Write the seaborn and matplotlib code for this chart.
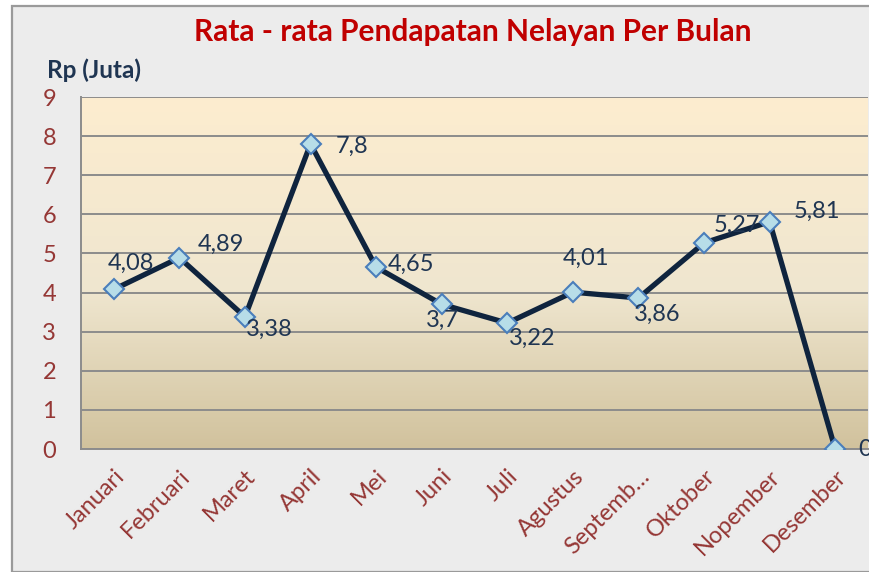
import numpy as np
import matplotlib
matplotlib.use("Agg")
import matplotlib.pyplot as plt
from matplotlib.colors import LinearSegmentedColormap
from matplotlib.patches import Rectangle
from matplotlib.transforms import ScaledTranslation
import seaborn as sns

# data
months = ["Januari", "Februari", "Maret", "April", "Mei", "Juni", "Juli",
          "Agustus", "Septemb\u2026", "Oktober", "Nopember", "Desember"]
income = [4.08, 4.89, 3.38, 7.8, 4.65, 3.7, 3.22, 4.01, 3.86, 5.27, 5.81, 0]
y_ticks = [0, 1, 2, 3, 4, 5, 6, 7, 8, 9]

# label offsets (pixels) relative to each point
label_dx = [17, 42, 24, 42, 35, 1, 25, 13, 19, 33, 47, 30]
label_dy = [26, 13, -13, -2, 3, -16, -15, 34, -16, 18, 10, 0]

sns.set_style("white")
plt.rcParams['font.family'] = ['Lato', 'DejaVu Sans']

W, H = 869, 572
fig = plt.figure(figsize=(W / 100, H / 100), dpi=100)
fig.patch.set_facecolor("white")

# grey chart background with border
bg = Rectangle((12 / W, 0), 1, 1 - 6 / H, transform=fig.transFigure,
               facecolor="#ececec", edgecolor="#9a9a9a", lw=1.6, zorder=-10)
fig.patches.append(bg)

ax = fig.add_axes([81 / W, 1 - 449 / H, (868 - 81) / W, (449 - 97) / H])
ax.set_facecolor("none")

# gradient plot area
cmap = LinearSegmentedColormap.from_list(
    "sand", [(0, "#d1c29d"), (0.45, "#efe6cf"), (1, "#fdedd0")])
grad = np.linspace(0, 1, 256).reshape(-1, 1)
ax.imshow(grad, cmap=cmap, origin="lower", aspect="auto",
          extent=(-0.5, 11.5, 0, 9), zorder=0)

for t in y_ticks:
    ax.axhline(t, color="#8c8c8c", lw=1.4, zorder=1)

sns.lineplot(x=np.arange(len(months)), y=income, ax=ax, color="#0f243e",
             lw=3.8, marker="D", markersize=10, markerfacecolor="#b7dde8",
             markeredgecolor="#4a7ebb", markeredgewidth=1.5, zorder=3)

for i, v in enumerate(income):
    ax.annotate(f"{v:g}".replace(".", ","), (i, v),
                xytext=(label_dx[i], label_dy[i]), textcoords="offset pixels",
                ha="center", va="center", fontsize=17, color="#1f3552",
                zorder=4, annotation_clip=False)

ax.set_xlim(-0.5, 11.5)
ax.set_ylim(0, 9)
ax.set_yticks(y_ticks)
ax.set_xticks(range(len(months)))
ax.set_xticklabels(months, rotation=45, ha="right", rotation_mode="anchor",
                   fontsize=17, color="#953735")
shift = ScaledTranslation(-6 / 100, 0, fig.dpi_scale_trans)
for lbl in ax.get_xticklabels():
    lbl.set_transform(lbl.get_transform() + shift)
ax.set_xticks(np.arange(-0.5, 12, 1), minor=True)
ax.tick_params(axis="x", which="major", length=0, pad=12)
ax.tick_params(axis="x", which="minor", length=6, width=1.2,
               color="#8c8c8c", direction="out")
ax.tick_params(axis="y", length=6, width=1.2, color="#8c8c8c",
               direction="out", pad=12, labelsize=17, labelcolor="#953735")
ax.set_xlabel("")
ax.set_ylabel("")

for s in ["top", "right"]:
    ax.spines[s].set_visible(False)
for s in ["left", "bottom"]:
    ax.spines[s].set_color("#8c8c8c")
    ax.spines[s].set_linewidth(1.4)

fig.text(473 / W, 1 - 32 / H, "Rata - rata Pendapatan Nelayan Per Bulan",
         ha="center", va="center", fontsize=21.5, fontweight="bold",
         color="#c00000")
fig.text(47 / W, 1 - 70 / H, "Rp (Juta)", ha="left", va="center",
         fontsize=17.5, fontweight="bold", color="#1f3552")

fig.savefig("out.png", dpi=100)
